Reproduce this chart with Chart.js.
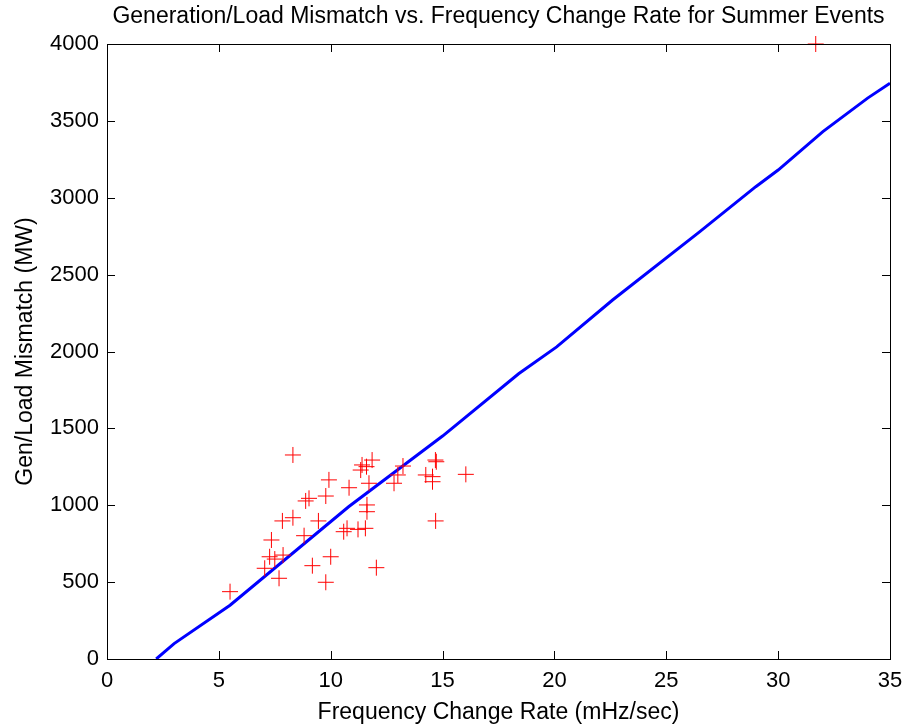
<!DOCTYPE html>
<html>
<head>
<meta charset="utf-8">
<title>Generation/Load Mismatch vs. Frequency Change Rate</title>
<script src="https://cdn.jsdelivr.net/npm/chart.js@4/dist/chart.umd.min.js"></script>
<style>
  html, body { margin: 0; padding: 0; background: #fff; }
  #wrap { width: 907px; height: 726px; }
</style>
</head>
<body>
<div id="wrap"><canvas id="chart" width="907" height="726"></canvas></div>
<script>
// summer events: frequency change rate (mHz/sec) and measured mismatch (MW)
const eventRate = [
  5.5, 7.05, 7.27, 7.5, 7.87, 7.69, 7.35, 7.84, 8.31, 8.31,
  8.81, 8.88, 9.03, 9.18, 9.45, 9.78, 9.78, 9.92, 10.0, 10.58,
  10.73, 10.82, 11.22, 11.55, 11.62, 11.62, 11.34, 11.4, 11.6, 11.71,
  11.85, 12.04, 12.83, 13.0, 13.23, 14.25, 14.55, 14.55, 14.68, 14.72,
  14.69, 16.04, 31.68
];
const eventMismatch = [
  438, 590, 665, 650, 676, 525, 774, 898, 919, 1327,
  802, 1028, 1045, 607, 898, 1060, 499, 1165, 665, 828,
  850, 1114, 843, 850, 1002, 958, 1229, 1262, 1251, 1143,
  1294, 594, 1143, 1197, 1255, 1197, 1186, 1153, 1294, 1283,
  898, 1201, 4000
];

// fitted curve
const fitRate = [2.2, 3.0, 5.5, 10.8, 15, 18.4, 20.1, 22.6, 26.5, 29, 30, 32, 34, 35];
const fitMismatch = [0, 100, 350, 990, 1450, 1855, 2030, 2335, 2780, 3072, 3180, 3430, 3648, 3745];

const xTicks = [0, 5, 10, 15, 20, 25, 30, 35];
const yTicks = [0, 500, 1000, 1500, 2000, 2500, 3000, 3500, 4000];

const chartTitle = "Generation/Load Mismatch vs. Frequency Change Rate for Summer Events";
const FONT = "Arial, 'Liberation Sans', Helvetica, sans-serif";

// box frame with inward ticks on all four sides, title centred over the plot
const boxAxes = {
  id: "boxAxes",
  afterDraw(chart) {
    const { ctx, chartArea: a, scales } = chart;
    const len = 8;
    ctx.save();
    ctx.strokeStyle = "#000";
    ctx.lineWidth = 1;
    ctx.beginPath();
    xTicks.forEach((v) => {
      const px = Math.round(scales.x.getPixelForValue(v)) + 0.5;
      ctx.moveTo(px, a.bottom); ctx.lineTo(px, a.bottom - len);
      ctx.moveTo(px, a.top); ctx.lineTo(px, a.top + len);
    });
    yTicks.forEach((v) => {
      const py = Math.round(scales.y.getPixelForValue(v)) + 0.5;
      ctx.moveTo(a.left, py); ctx.lineTo(a.left + len, py);
      ctx.moveTo(a.right, py); ctx.lineTo(a.right - len, py);
    });
    ctx.stroke();
    ctx.strokeRect(Math.round(a.left) + 0.5, Math.round(a.top) + 0.5,
      Math.round(a.right - a.left), Math.round(a.bottom - a.top));

    ctx.fillStyle = "#000";
    ctx.font = `23px ${FONT}`;
    ctx.textAlign = "center";
    ctx.textBaseline = "middle";
    ctx.fillText(chartTitle, (a.left + a.right) / 2, 17);
    ctx.restore();
  }
};

new Chart(document.getElementById("chart"), {
  type: "scatter",
  data: {
    datasets: [
      {
        label: "Events",
        data: eventRate.map((x, i) => ({ x, y: eventMismatch[i] })),
        pointStyle: "cross",
        pointRadius: 8,
        borderColor: "#ff0000",
        borderWidth: 1,
        clip: false
      },
      {
        label: "Fit",
        type: "line",
        data: fitRate.map((x, i) => ({ x, y: fitMismatch[i] })),
        borderColor: "#0000ff",
        borderWidth: 3,
        pointRadius: 0,
        fill: false,
        tension: 0
      }
    ]
  },
  options: {
    responsive: false,
    animation: false,
    layout: { padding: { left: 0, right: 17, top: 44, bottom: 0 } },
    plugins: {
      legend: { display: false },
      tooltip: { enabled: false },
      title: { display: false }
    },
    scales: {
      x: {
        type: "linear",
        min: 0,
        max: 35,
        afterBuildTicks: (s) => { s.ticks = xTicks.map((value) => ({ value })); },
        afterFit: (s) => { s.height = 67; s.paddingLeft = 0; s.paddingRight = 0; },
        grid: { display: false, drawTicks: false },
        border: { display: false },
        ticks: { color: "#000", padding: 9, font: { family: FONT, size: 22 }, callback: (v) => String(v) },
        title: {
          display: true,
          text: "Frequency Change Rate (mHz/sec)",
          color: "#000",
          font: { family: FONT, size: 23 },
          padding: { top: 0, bottom: 0 }
        }
      },
      y: {
        type: "linear",
        min: 0,
        max: 4000,
        afterBuildTicks: (s) => { s.ticks = yTicks.map((value) => ({ value })); },
        afterFit: (s) => { s.width = 107; s.paddingTop = 0; s.paddingBottom = 0; },
        grid: { display: false, drawTicks: false },
        border: { display: false },
        ticks: { color: "#000", padding: 8, font: { family: FONT, size: 22 }, callback: (v) => String(v) },
        title: {
          display: true,
          text: "Gen/Load Mismatch (MW)",
          color: "#000",
          font: { family: FONT, size: 23 },
          padding: { top: 12, bottom: 4 }
        }
      }
    }
  },
  plugins: [boxAxes]
});
</script>
</body>
</html>
